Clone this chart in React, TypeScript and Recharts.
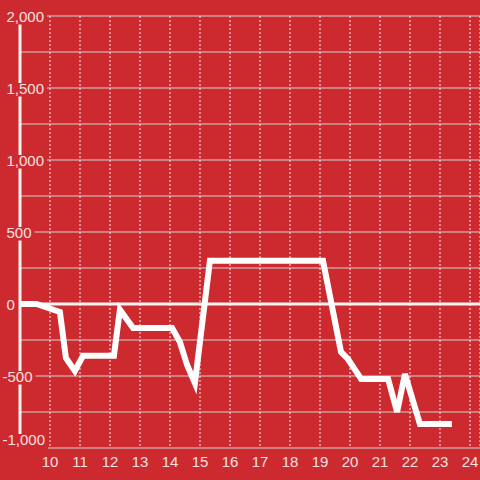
import React from "react";
import { LineChart, Line, XAxis, YAxis, CartesianGrid, ReferenceLine } from "recharts";

// hour of day vs. value
const hours = [9, 9.55, 10.33, 10.53, 10.83, 11.1, 12.13, 12.33, 12.77, 14.07, 14.33, 14.57, 14.83, 15.33, 19.1, 19.7, 19.93, 20.17, 20.37, 21.27, 21.57, 21.83, 22.33, 23.4];
const values = [0, 0, -55, -375, -465, -360, -360, -40, -167, -167, -264, -424, -550, 300, 300, -333, -382, -458, -520, -520, -750, -486, -833, -833];
const xTicks = [10, 11, 12, 13, 14, 15, 16, 17, 18, 19, 20, 21, 22, 23, 24];
const yTicks = [-1000, -750, -500, -250, 0, 250, 500, 750, 1000, 1250, 1500, 1750, 2000];

const data = hours.map((h, i) => ({ hour: h, value: values[i] }));

const BG = "#cd2a2f";
const LABEL = "#f4e0e0";
const FONT = "'Liberation Sans', Arial, sans-serif";

const textWidth = (s: string) =>
  s.split("").reduce((w, c) => w + (c === "," ? 4.17 : c === "-" ? 5 : 8.34), 0);

const YTick = (props: any) => {
  const { y, payload } = props;
  const v = payload.value;
  if (v % 500 !== 0) return <g />;
  const label = v.toLocaleString("en-US");
  const tx = v < 0 ? 2.5 : 6.5;
  const w = textWidth(label);
  const isBottom = v === -1000;
  const base = isBottom ? y - 3 : y + 6;
  return (
    <g>
      <rect x={tx - 1} y={base - 11} width={w + 4} height={isBottom ? 20 : 13.5} fill={BG} />
      <text x={tx} y={base} fill={LABEL} fontSize={15} fontFamily={FONT} textAnchor="start">
        {label}
      </text>
    </g>
  );
};

export default function App() {
  return (
    <div style={{ position: "absolute", left: 0, top: 0, width: 480, height: 480, background: BG, overflow: "hidden" }}>
      <LineChart width={480} height={480} data={data} margin={{ top: 16, right: 0, bottom: 0, left: 0 }}>
        <CartesianGrid vertical={false} stroke="#d2d2d2" strokeWidth={1} />
        <CartesianGrid horizontal={false} stroke="#f0f0f0" strokeDasharray="2 2" strokeWidth={1} />
        <XAxis
          type="number"
          dataKey="hour"
          domain={[9, 24.333]}
          ticks={xTicks}
          interval={0}
          allowDataOverflow
          height={32}
          axisLine={false}
          tickLine={false}
          tick={{ fill: LABEL, fontSize: 15, fontFamily: FONT }}
        />
        <YAxis
          type="number"
          domain={[-1000, 2000]}
          ticks={yTicks}
          interval={0}
          width={20}
          axisLine={{ stroke: "#f4f4f4", strokeWidth: 3 }}
          tickLine={false}
          tick={<YTick />}
        />
        <ReferenceLine y={0} stroke="#f4f4f4" strokeWidth={3} />
        <Line
          type="linear"
          dataKey="value"
          stroke="#ffffff"
          strokeWidth={6}
          dot={false}
          isAnimationActive={false}
        />
      </LineChart>
    </div>
  );
}
